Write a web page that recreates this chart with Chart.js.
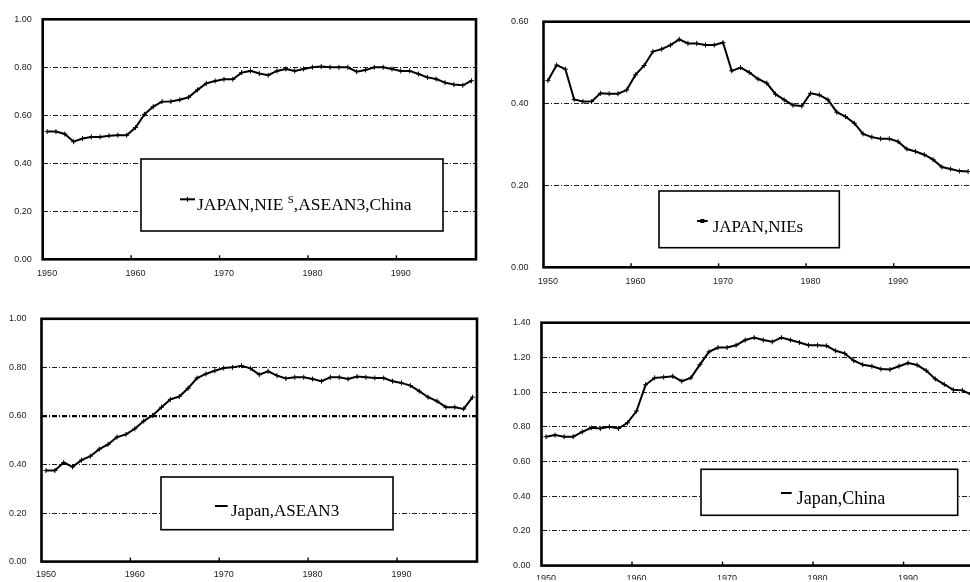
<!DOCTYPE html>
<html>
<head>
<meta charset="utf-8">
<script src="https://cdn.jsdelivr.net/npm/chart.js@4/dist/chart.umd.min.js"></script>
<style>
  html, body { margin: 0; padding: 0; background: #fff; }
  body { position: relative; width: 970px; height: 582px; overflow: hidden; }
  canvas { position: absolute; }
</style>
</head>
<body>
<canvas id="p1" width="485" height="291" style="left:0px;top:0px"></canvas>
<canvas id="p2" width="500" height="291" style="left:485px;top:0px"></canvas>
<canvas id="p3" width="485" height="291" style="left:0px;top:291px"></canvas>
<canvas id="p4" width="510" height="291" style="left:485px;top:291px"></canvas>
<script>
// Years on the category axis
const years = [
  '1950','1951','1952','1953','1954','1955','1956','1957','1958','1959',
  '1960','1961','1962','1963','1964','1965','1966','1967','1968','1969',
  '1970','1971','1972','1973','1974','1975','1976','1977','1978','1979',
  '1980','1981','1982','1983','1984','1985','1986','1987','1988','1989',
  '1990','1991','1992','1993','1994','1995','1996','1997','1998'
];
// Year labels printed under the x axis
const decadeLabels = ['1950', '1960', '1970', '1980', '1990'];

// Series values
const japanNiesAseanChina = [
  0.532, 0.532, 0.522, 0.490, 0.503, 0.510, 0.510, 0.515, 0.517, 0.517,
  0.549, 0.604, 0.636, 0.657, 0.658, 0.665, 0.675, 0.706, 0.733, 0.743,
  0.750, 0.750, 0.778, 0.785, 0.774, 0.767, 0.785, 0.793, 0.785, 0.793,
  0.800, 0.803, 0.800, 0.800, 0.800, 0.782, 0.789, 0.800, 0.800, 0.793,
  0.785, 0.785, 0.772, 0.758, 0.751, 0.736, 0.728, 0.725, 0.744
];
const japanNies = [
  0.456, 0.494, 0.484, 0.410, 0.405, 0.405, 0.425, 0.424, 0.424, 0.433,
  0.470, 0.493, 0.527, 0.533, 0.543, 0.557, 0.547, 0.547, 0.543, 0.543,
  0.549, 0.480, 0.488, 0.476, 0.460, 0.450, 0.423, 0.409, 0.396, 0.394,
  0.425, 0.421, 0.409, 0.379, 0.368, 0.352, 0.326, 0.318, 0.314, 0.314,
  0.307, 0.289, 0.283, 0.275, 0.263, 0.245, 0.240, 0.235, 0.234
];
const japanAsean3 = [
  0.375, 0.375, 0.408, 0.390, 0.418, 0.434, 0.463, 0.483, 0.513, 0.524,
  0.547, 0.579, 0.602, 0.636, 0.668, 0.680, 0.714, 0.756, 0.773, 0.786,
  0.797, 0.800, 0.807, 0.796, 0.770, 0.784, 0.766, 0.754, 0.759, 0.759,
  0.752, 0.743, 0.759, 0.759, 0.752, 0.762, 0.759, 0.756, 0.756, 0.743,
  0.736, 0.725, 0.702, 0.677, 0.661, 0.636, 0.636, 0.629, 0.677
];
const japanChina = [
  0.743, 0.752, 0.743, 0.743, 0.771, 0.794, 0.790, 0.800, 0.790, 0.823,
  0.891, 1.042, 1.082, 1.086, 1.091, 1.063, 1.082, 1.158, 1.232, 1.257,
  1.257, 1.270, 1.300, 1.314, 1.300, 1.290, 1.314, 1.300, 1.286, 1.270,
  1.270, 1.267, 1.238, 1.223, 1.181, 1.158, 1.149, 1.133, 1.130, 1.149,
  1.168, 1.156, 1.124, 1.076, 1.044, 1.013, 1.010, 0.985, 0.960
];

// Upper ends of the value axes
const yMaxNiesAseanChina = 1.0;
const yMaxNies = 0.6;
const yMaxAsean3 = 1.0;
const yMaxChina = 1.4;

const TICK_FONT = { family: "'Liberation Sans', Arial, sans-serif", size: 9 };
const SERIF = "'Liberation Serif', 'Times New Roman', serif";

// Frame, decade tick marks and the boxed legend
const framePlugin = {
  id: 'frame',
  afterDraw(chart, args, opts) {
    const { ctx, chartArea: a } = chart;
    const xs = chart.scales.x;
    ctx.save();
    // plot frame
    ctx.strokeStyle = '#000';
    ctx.lineWidth = 2.6;
    ctx.strokeRect(a.left, a.top, a.right - a.left, a.bottom - a.top);
    // tick marks between decades, pointing into the plot
    const half = (xs.getPixelForValue(1) - xs.getPixelForValue(0)) / 2;
    ctx.lineWidth = 1.4;
    chart.data.labels.forEach((lab, i) => {
      if (i > 0 && decadeLabels.includes(lab)) {
        const x = xs.getPixelForValue(i) - half;
        ctx.beginPath();
        ctx.moveTo(x, a.bottom);
        ctx.lineTo(x, a.bottom - 4);
        ctx.stroke();
      }
    });
    // legend box
    const lg = opts.legend;
    if (lg) {
      const [bx, by, bw, bh] = lg.box;
      ctx.fillStyle = '#fff';
      ctx.fillRect(bx, by, bw, bh);
      ctx.lineWidth = 1.6;
      ctx.strokeStyle = '#000';
      ctx.strokeRect(bx, by, bw, bh);
      // marker line
      const [mx0, mx1, my] = lg.marker;
      ctx.lineWidth = 2;
      ctx.beginPath();
      ctx.moveTo(mx0, my);
      ctx.lineTo(mx1, my);
      ctx.stroke();
      const mc = (mx0 + mx1) / 2;
      if (lg.markerStyle === 'cross') {
        ctx.lineWidth = 1.2;
        ctx.beginPath();
        ctx.moveTo(mc, my - 2.5);
        ctx.lineTo(mc, my + 2.5);
        ctx.stroke();
      } else if (lg.markerStyle === 'rect') {
        ctx.fillStyle = '#000';
        ctx.fillRect(mc - 2, my - 2, 4, 4);
      }
      // label text, with an optional small raised part
      let x = lg.textX;
      ctx.fillStyle = '#000';
      ctx.textBaseline = 'alphabetic';
      lg.text.forEach(seg => {
        const size = seg.small ? lg.fontSize * 0.62 : lg.fontSize;
        ctx.font = size + 'px ' + SERIF;
        ctx.fillText(seg.t, x, lg.baseline - (seg.raise || 0));
        x += ctx.measureText(seg.t).width;
      });
    }
    ctx.restore();
  }
};

function makePanel(id, cfg) {
  const canvas = document.getElementById(id);
  const W = canvas.width, H = canvas.height;
  const a = cfg.area;
  return new Chart(canvas, {
    type: 'line',
    data: {
      labels: years,
      datasets: [{
        label: cfg.label,
        data: cfg.data,
        borderColor: '#000',
        borderWidth: 2,
        tension: 0,
        pointStyle: 'cross',
        pointRadius: 2.5,
        pointBorderWidth: 1,
        pointBorderColor: '#000',
        pointBackgroundColor: '#000',
        clip: false
      }]
    },
    options: {
      responsive: false,
      animation: false,
      devicePixelRatio: 1,
      events: [],
      layout: { padding: { left: 0, top: a.t, right: W - a.r, bottom: 0 } },
      plugins: {
        legend: { display: false },
        tooltip: { enabled: false },
        frame: { legend: cfg.legend }
      },
      scales: {
        x: {
          type: 'category',
          offset: true,
          grid: { display: false, drawTicks: false },
          border: { display: false },
          ticks: {
            autoSkip: false,
            maxRotation: 0,
            minRotation: 0,
            padding: cfg.xPad,
            color: '#222',
            font: TICK_FONT,
            callback(v) {
              const l = this.getLabelForValue(v);
              return decadeLabels.includes(l) ? l : '';
            }
          },
          afterFit(s) { s.height = H - a.b; }
        },
        y: {
          min: 0,
          max: cfg.yMax,
          grid: {
            drawTicks: false,
            color: c => (c.tick && c.tick.value > 0.001 && c.tick.value < cfg.yMax - 0.001) ? '#000' : 'rgba(0,0,0,0)',
            lineWidth: c => (cfg.heavyGrid !== undefined && c.tick && Math.abs(c.tick.value - cfg.heavyGrid) < 0.001) ? 2.2 : 0.9
          },
          border: { display: false, dash: [5, 2, 1, 2] },
          ticks: {
            stepSize: 0.2,
            padding: cfg.yPad,
            color: '#222',
            font: TICK_FONT,
            callback: v => Number(v).toFixed(2)
          },
          afterFit(s) { s.width = a.l; }
        }
      }
    },
    plugins: [framePlugin]
  });
}

makePanel('p1', {
  label: 'JAPAN,NIEs,ASEAN3,China',
  data: japanNiesAseanChina,
  yMax: yMaxNiesAseanChina,
  area: { l: 42.7, t: 19.3, r: 476, b: 259.3 },
  xPad: 8.5, yPad: 11,
  legend: {
    box: [141, 159, 302, 72],
    marker: [180, 195, 199.3],
    markerStyle: 'cross',
    textX: 197, baseline: 209.5, fontSize: 17.5,
    text: [{ t: 'JAPAN,NIE ' }, { t: 'S', small: true, raise: 7 }, { t: ',ASEAN3,China' }]
  }
});

makePanel('p2', {
  label: 'JAPAN,NIEs',
  data: japanNies,
  yMax: yMaxNies,
  area: { l: 58.5, t: 21.7, r: 487.5, b: 267.3 },
  xPad: 8.5, yPad: 15,
  legend: {
    box: [174, 191, 180.3, 56.7],
    marker: [212, 222.7, 221],
    markerStyle: 'rect',
    textX: 227.7, baseline: 232, fontSize: 17,
    text: [{ t: 'JAPAN,NIEs' }]
  }
});

makePanel('p3', {
  label: 'Japan,ASEAN3',
  data: japanAsean3,
  yMax: yMaxAsean3,
  heavyGrid: 0.6,
  area: { l: 41.5, t: 27.8, r: 477, b: 272 },
  xPad: 8, yPad: 15,
  legend: {
    box: [161, 186, 232, 52.7],
    marker: [215, 227.7, 215],
    markerStyle: 'none',
    textX: 231, baseline: 225, fontSize: 17,
    text: [{ t: 'Japan,ASEAN3' }]
  }
});

makePanel('p4', {
  label: 'Japan,China',
  data: japanChina,
  yMax: yMaxChina,
  area: { l: 56.5, t: 31.7, r: 500, b: 276.7 },
  xPad: 8, yPad: 11,
  legend: {
    box: [216, 178.3, 256.7, 46],
    marker: [296, 306.7, 202],
    markerStyle: 'none',
    textX: 311.7, baseline: 212.7, fontSize: 18,
    text: [{ t: 'Japan,China' }]
  }
});
</script>
</body>
</html>
